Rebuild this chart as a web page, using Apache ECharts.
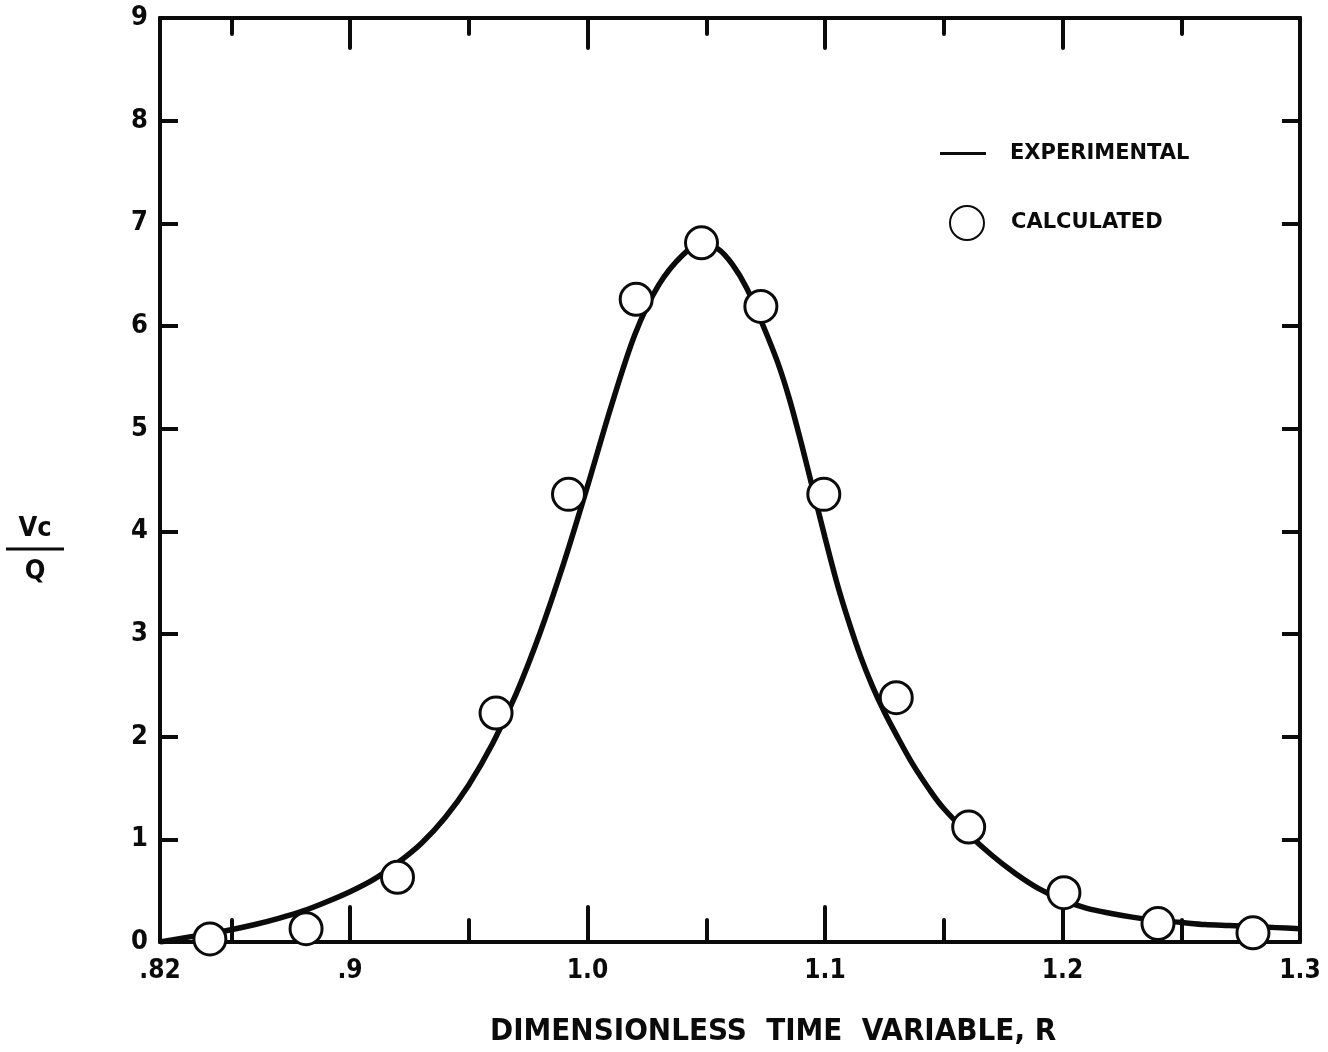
<!DOCTYPE html>
<html>
<head>
<meta charset="utf-8">
<script src="https://cdn.jsdelivr.net/npm/echarts@6/dist/echarts.min.js"></script>
<style>
  html, body { margin: 0; padding: 0; background: #fff; }
  #chart { width: 1328px; height: 1052px; }
</style>
</head>
<body>
<div id="chart"></div>
<script>
// Calculated points (circles): dimensionless time R vs Vc/Q
const calcR = [0.841, 0.8815, 0.920, 0.9615, 0.992, 1.0205, 1.048, 1.073, 1.0995, 1.1300, 1.1605, 1.2006, 1.2402, 1.2802];
const calcV = [0.03, 0.13, 0.63, 2.23, 4.36, 6.26, 6.81, 6.19, 4.36, 2.38, 1.12, 0.48, 0.18, 0.09];

// Experimental curve traced along R
const expR = [0.820, 0.830, 0.840, 0.850, 0.860, 0.870, 0.880, 0.890, 0.900, 0.910,
              0.920, 0.930, 0.940, 0.950, 0.960, 0.970, 0.980, 0.990, 1.000, 1.010,
              1.020, 1.030, 1.040, 1.048, 1.055, 1.061, 1.067, 1.074, 1.080, 1.085,
              1.090, 1.095, 1.100, 1.105, 1.110, 1.115, 1.120, 1.125, 1.130, 1.137,
              1.145, 1.150, 1.160, 1.170, 1.180, 1.190, 1.200, 1.210, 1.220, 1.230,
              1.240, 1.250, 1.260, 1.270, 1.280, 1.290, 1.300];
const expV = [0.00, 0.04, 0.08, 0.12, 0.17, 0.23, 0.30, 0.39, 0.49, 0.61,
              0.77, 0.96, 1.21, 1.53, 1.93, 2.42, 3.01, 3.69, 4.44, 5.22,
              5.92, 6.40, 6.69, 6.80, 6.75, 6.60, 6.37, 6.00, 5.65, 5.29,
              4.86, 4.40, 3.94, 3.50, 3.12, 2.78, 2.49, 2.24, 2.02, 1.73,
              1.45, 1.30, 1.06, 0.85, 0.67, 0.52, 0.41, 0.33, 0.28, 0.24,
              0.21, 0.19, 0.17, 0.16, 0.15, 0.14, 0.13];

// Axis ticks and labels
const xLabelValues = [0.82, 0.9, 1.0, 1.1, 1.2, 1.3];
const xLabelText = ['.82', '.9', '1.0', '1.1', '1.2', '1.3'];
const xMajorTicks = [0.9, 1.0, 1.1, 1.2];
const xMinorTicks = [0.85, 0.95, 1.05, 1.15, 1.25];
const yLabelText = ['0', '1', '2', '3', '4', '5', '6', '7', '8', '9'];

const INK = '#0b0b0b';
const FONT = "'DejaVu Sans Condensed', 'DejaVu Sans', sans-serif";
const X_MIN = 0.82, X_MAX = 1.3;

function xAxisDef(position, ticks, tickLen, withLabels) {
  const axis = {
    type: 'value',
    position: position,
    min: X_MIN,
    max: X_MAX,
    axisLine: { show: true, onZero: false, lineStyle: { color: INK, width: 4 } },
    axisTick: { show: true, inside: true, length: tickLen, customValues: ticks,
                lineStyle: { color: INK, width: 4, cap: 'round' } },
    axisLabel: { show: false },
    splitLine: { show: false }
  };
  if (withLabels) {
    axis.axisLabel = {
      show: true,
      customValues: xLabelValues,
      margin: 16,
      color: INK,
      fontFamily: FONT,
      fontWeight: 'bold',
      fontSize: 26,
      formatter: function (v) {
        const i = xLabelValues.findIndex(function (t) { return Math.abs(t - v) < 1e-6; });
        return i >= 0 ? xLabelText[i] : '';
      }
    };
  }
  return axis;
}

const chart = echarts.init(document.getElementById('chart'), null, { renderer: 'canvas' });

chart.setOption({
  animation: false,
  backgroundColor: '#ffffff',
  grid: { left: 160, right: 28, top: 18, bottom: 110, containLabel: false },
  title: [
    {
      text: '{v|Vc}\n{bar| }\n{q|Q}',
      left: 1,
      top: 508,
      textStyle: {
        rich: {
          v: { fontFamily: FONT, fontWeight: 'bold', fontSize: 27, color: INK, align: 'center', width: 58, lineHeight: 32 },
          bar: { width: 58, height: 3, backgroundColor: INK, lineHeight: 8, fontSize: 2 },
          q: { fontFamily: FONT, fontWeight: 'bold', fontSize: 27, color: INK, align: 'center', width: 58, lineHeight: 38 }
        }
      }
    },
    {
      text: 'DIMENSIONLESS  TIME  VARIABLE, R',
      left: 485,
      top: 1011,
      textStyle: { fontFamily: FONT, fontWeight: 'bold', fontSize: 31, color: INK }
    }
  ],
  legend: [
    {
      orient: 'vertical',
      left: 940,
      top: 143,
      padding: 0,
      itemWidth: 46,
      itemHeight: 3,
      data: [{ name: 'EXPERIMENTAL', icon: 'rect' }],
      textStyle: { fontFamily: "'DejaVu Sans', sans-serif", fontWeight: 'bold', fontSize: 21, color: INK,
                   padding: [0, 0, 0, 19] },
      selectedMode: false
    },
    {
      orient: 'vertical',
      left: 949,
      top: 205,
      padding: 0,
      itemWidth: 34,
      itemHeight: 34,
      data: [{ name: 'CALCULATED', icon: 'circle' }],
      textStyle: { fontFamily: "'DejaVu Sans', sans-serif", fontWeight: 'bold', fontSize: 21, color: INK,
                   padding: [0, 0, 8, 22] },
      selectedMode: false
    }
  ],
  xAxis: [
    xAxisDef('bottom', xMajorTicks, 35, true),
    xAxisDef('bottom', xMinorTicks, 22, false),
    xAxisDef('top', xMajorTicks, 30, false),
    xAxisDef('top', xMinorTicks, 16, false)
  ],
  yAxis: [
    {
      type: 'value',
      position: 'left',
      min: 0,
      max: 9,
      interval: 1,
      axisLine: { show: true, onZero: false, lineStyle: { color: INK, width: 4 } },
      axisTick: { show: true, inside: true, length: 18, lineStyle: { color: INK, width: 4 } },
      axisLabel: {
        show: true, margin: 12, color: INK, fontFamily: FONT, fontWeight: 'bold', fontSize: 27,
        formatter: function (v) { return yLabelText[Math.round(v)]; }
      },
      splitLine: { show: false }
    },
    {
      type: 'value',
      position: 'right',
      min: 0,
      max: 9,
      interval: 1,
      axisLine: { show: true, onZero: false, lineStyle: { color: INK, width: 4 } },
      axisTick: { show: true, inside: true, length: 18, lineStyle: { color: INK, width: 4 } },
      axisLabel: { show: false },
      splitLine: { show: false }
    }
  ],
  series: [
    {
      name: 'EXPERIMENTAL',
      type: 'line',
      xAxisIndex: 0,
      yAxisIndex: 0,
      data: expR.map(function (r, i) { return [r, expV[i]]; }),
      smooth: 0.3,
      showSymbol: false,
      lineStyle: { color: INK, width: 5.5 },
      itemStyle: { color: INK },
      z: 2
    },
    {
      name: 'CALCULATED',
      type: 'scatter',
      xAxisIndex: 0,
      yAxisIndex: 0,
      data: calcR.map(function (r, i) { return [r, calcV[i]]; }),
      symbol: 'circle',
      symbolSize: 32,
      itemStyle: { color: '#ffffff', borderColor: INK, borderWidth: 3, opacity: 1 },
      z: 3
    }
  ]
});
</script>
</body>
</html>
